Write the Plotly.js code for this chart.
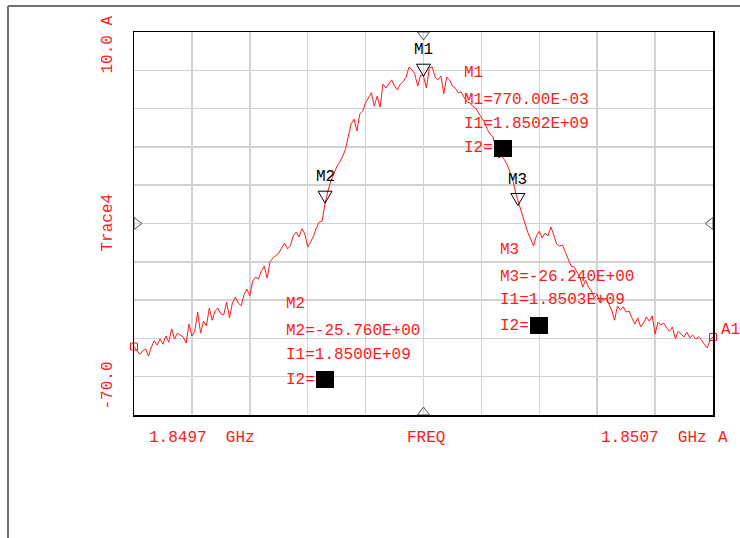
<!DOCTYPE html>
<html>
<head>
<meta charset="utf-8">
<script src="https://cdn.plot.ly/plotly-3.0.1.min.js"></script>
<style>
  html, body { margin: 0; padding: 0; background: #fff; }
  #chart { width: 740px; height: 538px; }
</style>
</head>
<body>
<div id="chart"></div>
<script>
// ---------------- DATA ----------------
const freqStartMHz = 1849.7;
const freqStopMHz = 1850.7;
const refLevelDb = 10;
const bottomDb = -70;
const dbPerDiv = 8;
const centerFreqMHz = 1850.2;
const centerLineDb = -30;

const traceDb = [
  -55.7,-56.4,-57.3,-56.6,-56.2,-57.7,-55.8,-54.5,-55.4,-54.1,
  -55.2,-53.5,-54.8,-52.0,-54.1,-52.9,-53.3,-53.7,-55.0,-51.0,
  -53.5,-52.5,-48.5,-52.9,-50.4,-51.4,-47.7,-50.2,-48.3,-47.7,
  -48.9,-49.1,-46.4,-49.7,-46.6,-45.4,-46.6,-47.2,-44.9,-43.7,
  -45.1,-42.0,-41.2,-41.6,-39.9,-38.9,-41.4,-38.0,-37.2,-36.6,
  -36.2,-35.1,-34.1,-35.3,-34.7,-32.6,-31.8,-32.8,-31.1,-32.2,
  -34.9,-33.9,-32.6,-30.9,-29.7,-29.5,-25.8,-23.2,-21.1,-19.7,
  -18.2,-17.2,-16.1,-14.6,-11.9,-9.2,-8.2,-10.7,-7.1,-6.5,
  -4.8,-3.6,-2.7,-5.5,-3.4,-5.7,-0.9,-1.7,-0.9,0.0,
  -1.3,-2.1,-0.9,-0.4,0.6,2.7,2.1,1.2,-1.3,1.0,
  0.8,-1.7,2.5,2.7,0.6,0.0,0.8,-2.9,0.6,0.0,
  -1.3,-1.7,-2.7,-2.5,-3.6,-4.6,-4.8,-5.5,-5.9,-6.9,
  -8.0,-8.8,-10.3,-11.3,-11.9,-14.6,-16.3,-15.9,-16.7,-17.8,
  -19.5,-21.3,-24.0,-26.1,-28.0,-29.9,-31.8,-33.4,-34.7,-32.6,
  -31.6,-33.0,-32.0,-32.6,-30.7,-32.4,-34.3,-34.7,-34.5,-36.0,
  -37.4,-38.9,-39.1,-40.3,-41.2,-43.3,-41.8,-43.3,-44.1,-45.6,
  -44.7,-46.6,-46.0,-45.6,-46.8,-48.1,-50.2,-47.2,-48.1,-47.4,
  -48.5,-48.3,-49.7,-51.0,-49.7,-51.6,-50.8,-49.5,-50.4,-49.3,
  -53.1,-50.6,-51.2,-50.8,-51.8,-52.5,-51.6,-54.1,-52.5,-53.1,
  -53.7,-52.7,-53.9,-53.3,-54.1,-53.7,-54.3,-55.2,-56.0,-54.3,
  -53.7
];

const markerNames = ['M1', 'M2', 'M3'];
const markerFreqMHz = [1850.2, 1850.03, 1850.363];
const markerDb = [0.77, -25.76, -26.24];
const markerLine1 = ['M1=770.00E-03', 'M2=-25.760E+00', 'M3=-26.240E+00'];
const markerLine2 = ['I1=1.8502E+09', 'I1=1.8500E+09', 'I1=1.8503E+09'];
const markerLine3 = ['I2=', 'I2=', 'I2='];

const yLabelTop = '10.0 A';
const yLabelMid = 'Trace4';
const yLabelBottom = '-70.0';
const xLabelStart = '1.8497\u00a0\u00a0GHz';
const xLabelMid = 'FREQ';
const xLabelStop = '1.8507\u00a0\u00a0GHz';
const xLabelSuffix = 'A';
const traceName = 'A1';

// ---------------- LAYOUT HELPERS ----------------
const W = 740, H = 538;
const L = 134, R = 713, T = 32, B = 415;
const px2x = p => (p - L) / (R - L);
const py2y = p => (B - p) / (B - T);

const n = traceDb.length;
const freqMHz = traceDb.map((_, i) => freqStartMHz + i * (freqStopMHz - freqStartMHz) / (n - 1));

const RED = '#ff1a1a';
const FONT = 'Liberation Mono, DejaVu Sans Mono, monospace';

const traces = [
  {
    x: freqMHz, y: traceDb, type: 'scatter', mode: 'lines',
    line: { color: RED, width: 1 }, hoverinfo: 'skip', cliponaxis: false
  },
  {
    x: [freqMHz[0], freqMHz[n - 1]], y: [traceDb[0], traceDb[n - 1]],
    type: 'scatter', mode: 'markers',
    marker: { symbol: 'square-open', size: 7, color: RED, line: { width: 1, color: RED } },
    cliponaxis: false, hoverinfo: 'skip'
  }
];

const shapes = [];
const annotations = [];

// center cross lines
shapes.push({ type: 'line', xref: 'x', yref: 'paper', x0: centerFreqMHz, x1: centerFreqMHz, y0: 0, y1: 1,
  line: { color: '#8c8c22', width: 1 }, layer: 'below' });
shapes.push({ type: 'line', xref: 'paper', yref: 'y', x0: 0, x1: 1, y0: centerLineDb, y1: centerLineDb,
  line: { color: '#8c8c22', width: 1 }, layer: 'below' });

// edge triangles of cross lines
const triStyle = { color: '#555', width: 1 };
shapes.push({ type: 'path', xref: 'x', yref: 'y', xsizemode: 'pixel', ysizemode: 'pixel',
  xanchor: freqStartMHz, yanchor: centerLineDb, path: 'M 0,6 L 8,0 L 0,-6 Z', line: triStyle, fillcolor: 'rgba(0,0,0,0)' });
shapes.push({ type: 'path', xref: 'x', yref: 'y', xsizemode: 'pixel', ysizemode: 'pixel',
  xanchor: freqStopMHz, yanchor: centerLineDb, path: 'M 0,6 L -8,0 L 0,-6 Z', line: triStyle, fillcolor: 'rgba(0,0,0,0)' });
shapes.push({ type: 'path', xref: 'x', yref: 'y', xsizemode: 'pixel', ysizemode: 'pixel',
  xanchor: centerFreqMHz, yanchor: bottomDb, path: 'M -6,0 L 0,8 L 6,0 Z', line: triStyle, fillcolor: 'rgba(0,0,0,0)' });
shapes.push({ type: 'path', xref: 'x', yref: 'y', xsizemode: 'pixel', ysizemode: 'pixel',
  xanchor: centerFreqMHz, yanchor: refLevelDb, path: 'M -6,0 L 0,-8 L 6,0 Z', line: triStyle, fillcolor: 'rgba(0,0,0,0)' });

// outer gray frame (left and top)
shapes.push({ type: 'line', xref: 'paper', yref: 'paper', x0: px2x(8), x1: px2x(8), y0: py2y(6), y1: py2y(540),
  line: { color: '#707070', width: 2 } });
shapes.push({ type: 'line', xref: 'paper', yref: 'paper', x0: px2x(8), x1: px2x(742), y0: py2y(6), y1: py2y(6),
  line: { color: '#707070', width: 2 } });

// markers
for (let k = 0; k < markerNames.length; k++) {
  shapes.push({ type: 'path', xref: 'x', yref: 'y', xsizemode: 'pixel', ysizemode: 'pixel',
    xanchor: markerFreqMHz[k], yanchor: markerDb[k], path: 'M -7,12 L 7,12 L 0,0 Z',
    line: { color: '#000', width: 1 }, fillcolor: 'rgba(255,255,255,0)' });
  annotations.push({ x: markerFreqMHz[k], y: markerDb[k], xref: 'x', yref: 'y', text: markerNames[k],
    showarrow: false, yshift: 26, xshift: 0, font: { family: FONT, size: 16, color: '#000' } });
}

// marker readout blocks (left x, y of 4 lines, black square box)
const blocks = [
  { x: 462, ys: [73, 100, 123.5, 148], sq: [494, 512, 140, 157] },
  { x: 284, ys: [304, 330.5, 355, 380], sq: [316, 334, 371, 388] },
  { x: 498, ys: [250, 276.5, 300, 326], sq: [530, 548, 317, 334] }
];
for (let k = 0; k < blocks.length; k++) {
  const b = blocks[k];
  const lines = [markerNames[k], markerLine1[k], markerLine2[k], markerLine3[k]];
  lines.forEach((t, j) => {
    annotations.push({ xref: 'paper', yref: 'paper', x: px2x(b.x), y: py2y(b.ys[j]), xanchor: 'left', yanchor: 'middle',
      text: t, showarrow: false, font: { family: FONT, size: 16, color: RED } });
  });
  shapes.push({ type: 'rect', xref: 'paper', yref: 'paper', x0: px2x(b.sq[0]), x1: px2x(b.sq[1]), y0: py2y(b.sq[3]), y1: py2y(b.sq[2]),
    fillcolor: '#000', line: { width: 0 } });
}

// trace name at right end
annotations.push({ xref: 'paper', yref: 'paper', x: px2x(719), y: py2y(330), xanchor: 'left', yanchor: 'middle',
  text: traceName, showarrow: false, font: { family: FONT, size: 16, color: RED } });

// y-side rotated labels
[[yLabelTop, 45], [yLabelMid, 223], [yLabelBottom, 386]].forEach(([t, py]) => {
  annotations.push({ xref: 'paper', yref: 'paper', x: px2x(107.5), y: py2y(py), xanchor: 'center', yanchor: 'middle',
    text: t, textangle: -90, showarrow: false, font: { family: FONT, size: 16, color: RED } });
});

// bottom labels
annotations.push({ xref: 'paper', yref: 'paper', x: px2x(147), y: py2y(438), xanchor: 'left', yanchor: 'middle',
  text: xLabelStart, showarrow: false, font: { family: FONT, size: 16, color: RED } });
annotations.push({ xref: 'paper', yref: 'paper', x: px2x(426), y: py2y(438), xanchor: 'center', yanchor: 'middle',
  text: xLabelMid, showarrow: false, font: { family: FONT, size: 16, color: RED } });
annotations.push({ xref: 'paper', yref: 'paper', x: px2x(599), y: py2y(438), xanchor: 'left', yanchor: 'middle',
  text: xLabelStop, showarrow: false, font: { family: FONT, size: 16, color: RED } });
annotations.push({ xref: 'paper', yref: 'paper', x: px2x(716), y: py2y(438), xanchor: 'left', yanchor: 'middle',
  text: xLabelSuffix, showarrow: false, font: { family: FONT, size: 16, color: RED } });

const layout = {
  width: W, height: H,
  margin: { l: L, r: W - R, t: T, b: H - B, pad: 0 },
  paper_bgcolor: '#fff', plot_bgcolor: '#fff',
  showlegend: false,
  xaxis: {
    range: [freqStartMHz, freqStopMHz], dtick: (freqStopMHz - freqStartMHz) / 10, tick0: freqStartMHz,
    showgrid: true, gridcolor: '#d2d2d2', gridwidth: 1.5, zeroline: false,
    showline: true, linecolor: '#000', linewidth: 1.5, mirror: true,
    ticks: '', showticklabels: false, fixedrange: true
  },
  yaxis: {
    range: [bottomDb, refLevelDb], dtick: dbPerDiv, tick0: bottomDb,
    showgrid: true, gridcolor: '#d2d2d2', gridwidth: 1.5, zeroline: false,
    showline: true, linecolor: '#000', linewidth: 1.5, mirror: true,
    ticks: '', showticklabels: false, fixedrange: true
  },
  shapes: shapes,
  annotations: annotations
};

Plotly.newPlot('chart', traces, layout, { displayModeBar: false, staticPlot: true });
</script>
</body>
</html>
